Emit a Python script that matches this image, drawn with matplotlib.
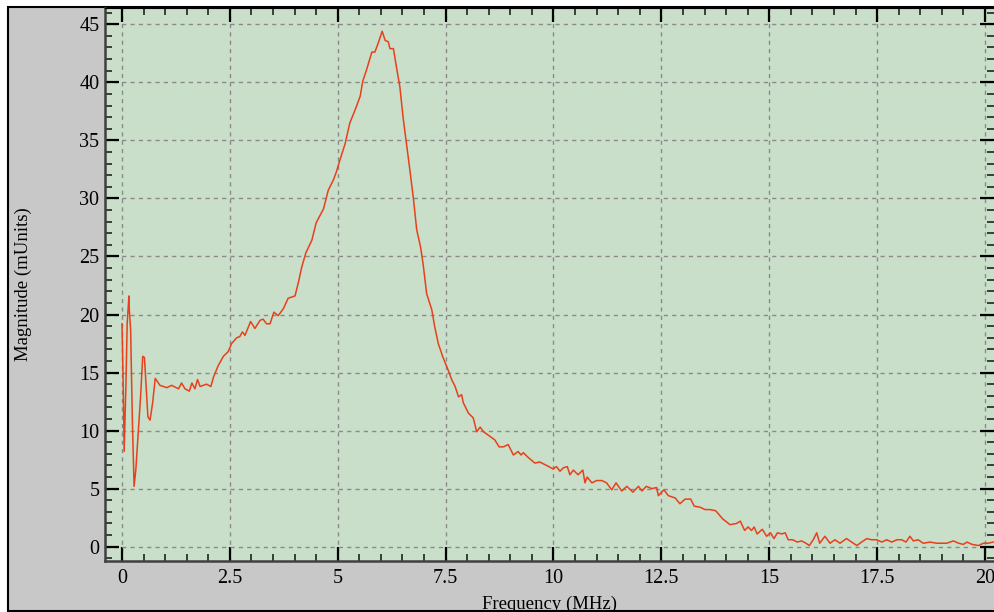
import matplotlib
matplotlib.use("Agg")
import matplotlib.pyplot as plt
from matplotlib.patches import Rectangle
from matplotlib.ticker import MultipleLocator

freq = [0.00, 0.01, 0.03, 0.05, 0.09, 0.12, 0.16, 0.17, 0.20, 0.24, 0.28, 0.32, 0.38, 0.43,
        0.48, 0.52, 0.56, 0.60, 0.65, 0.71, 0.77, 0.88, 1.04, 1.15, 1.31, 1.38, 1.46, 1.56,
        1.62, 1.69, 1.75, 1.81, 1.96, 2.06, 2.12, 2.23, 2.35, 2.46, 2.54, 2.66, 2.73, 2.79,
        2.85, 2.98, 3.08, 3.20, 3.27, 3.35, 3.43, 3.52, 3.62, 3.74, 3.85, 4.01, 4.09, 4.16,
        4.26, 4.40, 4.50, 4.67, 4.78, 4.90, 4.97, 5.05, 5.17, 5.28, 5.40, 5.52, 5.58, 5.67,
        5.79, 5.86, 5.94, 6.03, 6.10, 6.17, 6.21, 6.29, 6.37, 6.44, 6.52, 6.60, 6.67, 6.75,
        6.83, 6.92, 6.98, 7.06, 7.18, 7.25, 7.33, 7.43, 7.56, 7.64, 7.72, 7.80, 7.87, 7.91,
        8.03, 8.14, 8.22, 8.30, 8.38, 8.53, 8.64, 8.74, 8.84, 8.95, 9.07, 9.18, 9.25, 9.30,
        9.41, 9.57, 9.68, 9.84, 9.99, 10.07, 10.15, 10.23, 10.32, 10.38, 10.46, 10.57, 10.68,
        10.73, 10.78, 10.89, 11.00, 11.12, 11.23, 11.35, 11.45, 11.58, 11.70, 11.84, 11.97,
        12.05, 12.15, 12.28, 12.39, 12.43, 12.56, 12.66, 12.82, 12.93, 13.05, 13.18, 13.26,
        13.40, 13.51, 13.62, 13.76, 13.92, 14.09, 14.24, 14.33, 14.43, 14.51, 14.59, 14.65,
        14.72, 14.84, 14.94, 15.03, 15.11, 15.19, 15.29, 15.37, 15.44, 15.54, 15.65, 15.75,
        15.85, 15.93, 16.02, 16.10, 16.17, 16.29, 16.41, 16.52, 16.64, 16.79, 16.91, 17.03,
        17.14, 17.26, 17.37, 17.49, 17.61, 17.72, 17.84, 17.96, 18.07, 18.17, 18.26, 18.34,
        18.45, 18.57, 18.73, 18.88, 19.00, 19.11, 19.27, 19.39, 19.50, 19.58, 19.70, 19.85,
        19.96, 20.07, 20.19]

magnitude = [19.2, 17.2, 13.5, 8.2, 13.8, 19.2, 21.6, 20.4, 18.7, 10.9, 5.2, 6.6, 10.0, 12.9,
             16.4, 16.3, 13.8, 11.2, 10.9, 12.4, 14.5, 13.9, 13.7, 13.9, 13.6, 14.1, 13.6, 13.4,
             14.1, 13.6, 14.4, 13.8, 14.0, 13.8, 14.6, 15.6, 16.4, 16.8, 17.5, 18.0, 18.1, 18.5,
             18.2, 19.4, 18.8, 19.5, 19.6, 19.2, 19.2, 20.2, 19.9, 20.5, 21.4, 21.6, 22.8, 24.0,
             25.3, 26.4, 27.9, 29.1, 30.7, 31.6, 32.3, 33.3, 34.7, 36.5, 37.6, 38.8, 40.1, 41.1,
             42.6, 42.6, 43.4, 44.4, 43.6, 43.5, 42.9, 42.9, 41.1, 39.6, 36.8, 34.5, 32.5, 30.1,
             27.3, 25.8, 24.3, 21.8, 20.4, 18.9, 17.5, 16.4, 15.2, 14.4, 13.8, 12.9, 13.1, 12.4,
             11.5, 11.1, 9.9, 10.3, 9.9, 9.5, 9.2, 8.6, 8.6, 8.8, 7.9, 8.2, 7.9, 8.1,
             7.7, 7.2, 7.3, 7.0, 6.7, 6.9, 6.5, 6.8, 6.9, 6.2, 6.6, 6.2, 6.6,
             5.5, 6.0, 5.5, 5.7, 5.7, 5.5, 4.9, 5.5, 4.8, 5.2, 4.7, 5.2,
             4.8, 5.2, 5.0, 5.1, 4.4, 4.9, 4.4, 4.2, 3.7, 4.1, 4.1, 3.5,
             3.4, 3.2, 3.2, 3.1, 2.4, 1.9, 2.0, 2.2, 1.4, 1.7, 1.4, 1.7,
             1.1, 1.5, 0.9, 1.2, 0.7, 1.2, 1.1, 1.2, 0.6, 0.6, 0.4, 0.5,
             0.3, 0.1, 0.6, 1.2, 0.3, 0.9, 0.3, 0.6, 0.3, 0.7, 0.4, 0.1,
             0.4, 0.7, 0.6, 0.6, 0.4, 0.6, 0.4, 0.6, 0.6, 0.4, 0.9, 0.5,
             0.6, 0.3, 0.4, 0.3, 0.3, 0.3, 0.5, 0.3, 0.2, 0.4, 0.2, 0.1,
             0.3, 0.3, 0.4]

x_label = "Frequency (MHz)"
y_label = "Magnitude (mUnits)"

plt.rcParams['font.family'] = ['Liberation Serif', 'DejaVu Serif']

fig = plt.figure(figsize=(9.94, 6.12), dpi=100)
fig.patch.set_facecolor('white')
frame = Rectangle((8 / 994, 1 / 612), 1.0, 604 / 612, transform=fig.transFigure,
                  facecolor='#c8c8c8', edgecolor='black', lw=1.5, zorder=-10)
fig.add_artist(frame)

ax = fig.add_axes([105 / 994, 51 / 612, 889 / 994, 553 / 612])
ax.set_zorder(1)
ax.set_facecolor('#c9dfc9')
ax.plot(freq, magnitude, color='#e8401c', lw=1.1, zorder=3)

ax.set_xlim(-0.394, 20.209)
ax.set_ylim(-1.23, 46.40)

ax.xaxis.set_major_locator(MultipleLocator(2.5))
ax.xaxis.set_minor_locator(MultipleLocator(0.5))
ax.yaxis.set_major_locator(MultipleLocator(5))
ax.yaxis.set_minor_locator(MultipleLocator(1))
ax.xaxis.set_major_formatter(plt.FuncFormatter(lambda v, p: f"{v:g}"))

ax.tick_params(which='major', direction='in', length=10, width=1.6, color='black',
               top=True, right=True, labelsize=14.5)
ax.tick_params(which='minor', direction='in', length=5, width=1.2, color='#222222',
               top=True, right=True)
ax.tick_params(axis='x', which='major', pad=6)
ax.tick_params(axis='y', which='major', pad=4)

ax.grid(True, which='major', color='#8a8a8a', linestyle=(0, (3, 3)), linewidth=1.0)
ax.set_axisbelow(True)

for s in ['left', 'bottom']:
    ax.spines[s].set_color('#404040')
    ax.spines[s].set_linewidth(1.8)
ax.spines['top'].set_color('black')
ax.spines['right'].set_visible(False)

ax.set_xlabel(x_label, fontsize=13.5, labelpad=5)
ax.set_ylabel(y_label, fontsize=13.5, labelpad=34)

fig.savefig('out.png', dpi=100, facecolor=fig.get_facecolor())
